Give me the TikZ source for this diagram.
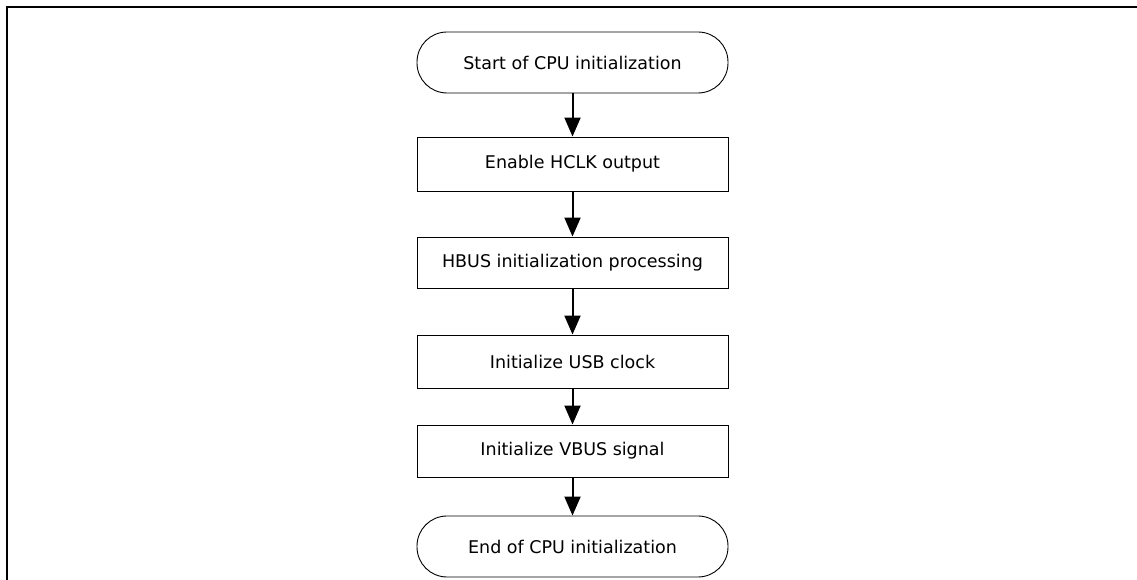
\documentclass[tikz,border=0pt]{standalone}
\usepackage{fontspec}
\setmainfont{DejaVu Sans}
\usetikzlibrary{arrows.meta}
\begin{document}
\begin{tikzpicture}[x=1pt,y=1pt,
  procbox/.style={draw=black, line width=0.9pt, minimum width=311pt, inner sep=0pt,
    font=\fontsize{17.5}{20}\selectfont},
  termbox/.style={procbox, rounded corners=30pt, minimum height=61pt},
  flow/.style={line width=2pt, -{Triangle[length=19pt,width=16pt]}}]
  \useasboundingbox (0,0) rectangle (1137,580);
  % frame edges
  \draw[line width=2.2pt] (7,0) -- (7,573) -- (1137,573);
  % flow steps
  \node[termbox] (start) at (572.5,517.5) {Start of CPU initialization};
  \node[procbox, minimum height=54pt] (hclk) at (572.5,416) {Enable HCLK output};
  \node[procbox, minimum height=51pt] (hbus) at (572.5,317.5) {HBUS initialization processing};
  \node[procbox, minimum height=53pt] (usbclk) at (572.5,218.5) {Initialize USB clock};
  \node[procbox, minimum height=52pt] (vbus) at (572.5,129) {Initialize VBUS signal};
  \node[termbox] (end) at (572.5,33.5) {End of CPU initialization};
  % connectors
  \draw[flow] (start) -- (hclk);
  \draw[flow] (hclk) -- (hbus);
  \draw[flow] (hbus) -- (usbclk);
  \draw[flow] (usbclk) -- (vbus);
  \draw[flow] (vbus) -- (end);
\end{tikzpicture}
\end{document}
